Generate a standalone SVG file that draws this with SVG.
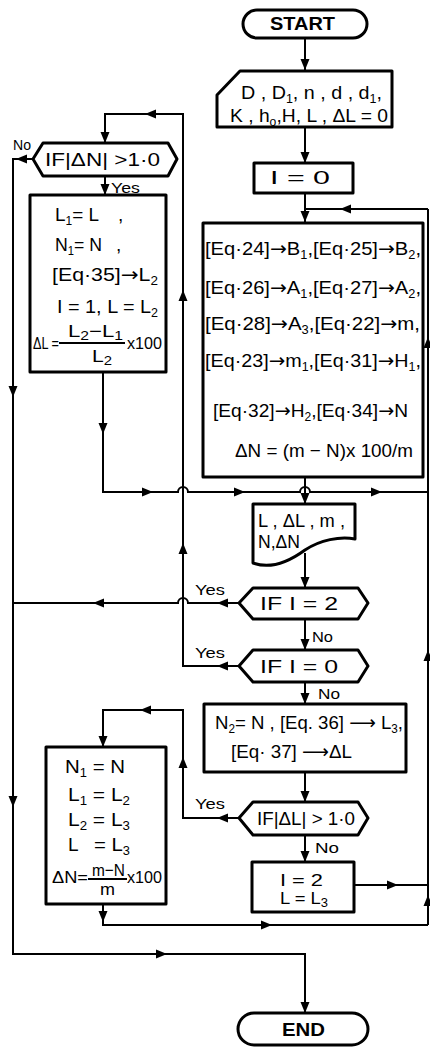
<svg xmlns="http://www.w3.org/2000/svg" xmlns:xlink="http://www.w3.org/1999/xlink" width="430" height="1048" viewBox="0 0 430 1048">
<style>
.s{fill:#fff;stroke:#000;stroke-width:3;stroke-linejoin:round}
.c{fill:none;stroke:#000;stroke-width:2}
text{font-family:"Liberation Sans",Arial,sans-serif;font-size:19px;fill:#000}
.b{font-weight:bold}
.lb{font-size:15px}
.sm{font-size:17px}
.sub{font-size:12px}
.ar{font-family:"DejaVu Sans",sans-serif}
</style>
<defs>
<path id="a" d="M0,0 L-11,-4.5 L-11,4.5 Z" fill="#000"/>
</defs>
<rect width="430" height="1048" fill="#fff"/>

<g id="connectors">
<path class="c" d="M305,38 V70"/>
<path class="c" d="M305,127 V163"/>
<path class="c" d="M305,193 V223"/>
<path class="c" d="M428,209 H305"/>
<path class="c" d="M428,925 V209"/>
<path class="c" d="M305,477 V504"/>
<path class="c" d="M103,372 V492 H178 A5,5 0 0 1 188,492 H300 A5,5 0 0 1 310,492 H428"/>
<path class="c" d="M305,553 V588"/>
<path class="c" d="M305,619 V650"/>
<path class="c" d="M305,682 V704"/>
<path class="c" d="M305,772 V802"/>
<path class="c" d="M305,835 V862"/>
<path class="c" d="M239,603 H188 A5,5 0 0 0 178,603 H13"/>
<path class="c" d="M239,666 H183 V114 H105 V143"/>
<path class="c" d="M33,159 H13 V954 H305 V1013"/>
<path class="c" d="M105,176 V195"/>
<path class="c" d="M239,818 H183 V710 H103 V747"/>
<path class="c" d="M354,885 H428"/>
<path class="c" d="M103,904 V925 H428"/>
<use xlink:href="#a" transform="translate(305,70) rotate(90)"/>
<use xlink:href="#a" transform="translate(305,163) rotate(90)"/>
<use xlink:href="#a" transform="translate(305,222) rotate(90)"/>
<use xlink:href="#a" transform="translate(340,209) rotate(180)"/>
<use xlink:href="#a" transform="translate(305,504) rotate(90)"/>
<use xlink:href="#a" transform="translate(103,434) rotate(90)"/>
<use xlink:href="#a" transform="translate(153,492)"/>
<use xlink:href="#a" transform="translate(245,492)"/>
<use xlink:href="#a" transform="translate(382,492)"/>
<use xlink:href="#a" transform="translate(305,588) rotate(90)"/>
<use xlink:href="#a" transform="translate(305,650) rotate(90)"/>
<use xlink:href="#a" transform="translate(305,704) rotate(90)"/>
<use xlink:href="#a" transform="translate(305,802) rotate(90)"/>
<use xlink:href="#a" transform="translate(305,862) rotate(90)"/>
<use xlink:href="#a" transform="translate(217,603) rotate(180)"/>
<use xlink:href="#a" transform="translate(93,603) rotate(180)"/>
<use xlink:href="#a" transform="translate(217,666) rotate(180)"/>
<use xlink:href="#a" transform="translate(183,290) rotate(-90)"/>
<use xlink:href="#a" transform="translate(183,543) rotate(-90)"/>
<use xlink:href="#a" transform="translate(145,114) rotate(180)"/>
<use xlink:href="#a" transform="translate(105,143) rotate(90)"/>
<use xlink:href="#a" transform="translate(16,159) rotate(180)"/>
<use xlink:href="#a" transform="translate(13,397) rotate(90)"/>
<use xlink:href="#a" transform="translate(13,807) rotate(90)"/>
<use xlink:href="#a" transform="translate(167,954)"/>
<use xlink:href="#a" transform="translate(305,1013) rotate(90)"/>
<use xlink:href="#a" transform="translate(105,195) rotate(90)"/>
<use xlink:href="#a" transform="translate(217,818) rotate(180)"/>
<use xlink:href="#a" transform="translate(183,757) rotate(-90)"/>
<use xlink:href="#a" transform="translate(140,710) rotate(180)"/>
<use xlink:href="#a" transform="translate(103,747) rotate(90)"/>
<use xlink:href="#a" transform="translate(398,885)"/>
<use xlink:href="#a" transform="translate(103,922) rotate(90)"/>
<use xlink:href="#a" transform="translate(272,925)"/>
<use xlink:href="#a" transform="translate(428,337) rotate(-90)"/>
<use xlink:href="#a" transform="translate(428,650) rotate(-90)"/>
<use xlink:href="#a" transform="translate(428,895) rotate(-90)"/>
</g>

<g id="start">
<rect class="s" x="243" y="10" width="124" height="28" rx="14"/>
<text class="b" x="270" y="30" textLength="65" lengthAdjust="spacingAndGlyphs">START</text>
</g>

<g id="input">
<path class="s" d="M240,71 H392 V127 H217 V95 Z"/>
<text x="241" y="99" textLength="141" lengthAdjust="spacingAndGlyphs">D , D<tspan class="sub" dy="4">1</tspan><tspan dy="-4">, n , d , d</tspan><tspan class="sub" dy="4">1</tspan><tspan dy="-4">,</tspan></text>
<text x="230" y="122" textLength="158" lengthAdjust="spacingAndGlyphs">K , h<tspan class="sub" dy="4">o</tspan><tspan dy="-4">,H, L , ΔL = 0</tspan></text>
</g>

<g id="init">
<rect class="s" x="254" y="163" width="99" height="30"/>
<text x="270" y="184" textLength="60" lengthAdjust="spacingAndGlyphs">I = 0</text>
</g>

<g id="compute">
<rect class="s" x="203" y="223" width="220" height="254"/>
<text x="205" y="255" textLength="216" lengthAdjust="spacingAndGlyphs">[Eq·24]<tspan class="ar">→</tspan>B<tspan class="sub" dy="4">1</tspan><tspan dy="-4">,[Eq·25]</tspan><tspan class="ar">→</tspan>B<tspan class="sub" dy="4">2</tspan><tspan dy="-4">,</tspan></text>
<text x="205" y="294" textLength="216" lengthAdjust="spacingAndGlyphs">[Eq·26]<tspan class="ar">→</tspan>A<tspan class="sub" dy="4">1</tspan><tspan dy="-4">,[Eq·27]</tspan><tspan class="ar">→</tspan>A<tspan class="sub" dy="4">2</tspan><tspan dy="-4">,</tspan></text>
<text x="205" y="330" textLength="215" lengthAdjust="spacingAndGlyphs">[Eq·28]<tspan class="ar">→</tspan>A<tspan class="sub" dy="4">3</tspan><tspan dy="-4">,[Eq·22]</tspan><tspan class="ar">→</tspan>m,</text>
<text x="205" y="367" textLength="216" lengthAdjust="spacingAndGlyphs">[Eq·23]<tspan class="ar">→</tspan>m<tspan class="sub" dy="4">1</tspan><tspan dy="-4">,[Eq·31]</tspan><tspan class="ar">→</tspan>H<tspan class="sub" dy="4">1</tspan><tspan dy="-4">,</tspan></text>
<text x="213" y="417" textLength="195" lengthAdjust="spacingAndGlyphs">[Eq·32]<tspan class="ar">→</tspan>H<tspan class="sub" dy="4">2</tspan><tspan dy="-4">,[Eq·34]</tspan><tspan class="ar">→</tspan>N</text>
<text x="235" y="457" textLength="178" lengthAdjust="spacingAndGlyphs">ΔN = (m − N)x 100/m</text>
</g>

<g id="output">
<path class="s" d="M253,504 H355 V539 C340,536 320,540 305,550 C290,561 272,570 253,563 Z"/>
<text x="258" y="527" textLength="87" lengthAdjust="spacingAndGlyphs">L , ΔL , m ,</text>
<text x="258" y="548" textLength="42" lengthAdjust="spacingAndGlyphs">N,ΔN</text>
</g>

<g id="if-dn">
<path class="s" d="M33,159 L43,143 H168 L177,159 L168,176 H43 Z"/>
<text x="45" y="166" textLength="115" lengthAdjust="spacingAndGlyphs">IF|ΔN| &gt;1·0</text>
</g>

<g id="box1">
<rect class="s" x="30" y="195" width="136" height="177"/>
<text x="55" y="221" textLength="44" lengthAdjust="spacingAndGlyphs">L<tspan class="sub" dy="4">1</tspan><tspan dy="-4">= L</tspan></text>
<text x="118" y="221">,</text>
<text x="55" y="251" textLength="47" lengthAdjust="spacingAndGlyphs">N<tspan class="sub" dy="4">1</tspan><tspan dy="-4">= N</tspan></text>
<text x="116" y="251">,</text>
<text x="52" y="281" textLength="106" lengthAdjust="spacingAndGlyphs">[Eq·35]<tspan class="ar">→</tspan>L<tspan class="sub" dy="4">2</tspan></text>
<text x="57" y="313" textLength="101" lengthAdjust="spacingAndGlyphs">I = 1, L = L<tspan class="sub" dy="4">2</tspan></text>
<text class="sm" x="33" y="349" textLength="26" lengthAdjust="spacingAndGlyphs">ΔL =</text>
<text class="sm" x="68" y="337" textLength="55" lengthAdjust="spacingAndGlyphs">L<tspan class="sub" dy="3">2</tspan><tspan dy="-3">−L</tspan><tspan class="sub" dy="3">1</tspan></text>
<path class="c" d="M59,343 H125"/>
<text class="sm" x="92" y="362" textLength="20" lengthAdjust="spacingAndGlyphs">L<tspan class="sub" dy="3">2</tspan></text>
<text class="sm" x="127" y="349" textLength="35" lengthAdjust="spacingAndGlyphs">x100</text>
</g>

<g id="if-i2">
<path class="s" d="M239,603 L253,588 H358 L368,603 L358,619 H253 Z"/>
<text x="260" y="610" textLength="78" lengthAdjust="spacingAndGlyphs">IF I = 2</text>
</g>

<g id="if-i0">
<path class="s" d="M239,666 L253,650 H358 L368,666 L358,682 H253 Z"/>
<text x="260" y="673" textLength="78" lengthAdjust="spacingAndGlyphs">IF I = 0</text>
</g>

<g id="n2box">
<rect class="s" x="204" y="704" width="202" height="68"/>
<text x="215" y="729" textLength="188" lengthAdjust="spacingAndGlyphs">N<tspan class="sub" dy="4">2</tspan><tspan dy="-4">= N , [Eq. 36] </tspan><tspan class="ar">⟶</tspan> L<tspan class="sub" dy="4">3</tspan><tspan dy="-4">,</tspan></text>
<text x="231" y="758" textLength="121" lengthAdjust="spacingAndGlyphs">[Eq· 37] <tspan class="ar">⟶</tspan>ΔL</text>
</g>

<g id="if-dl">
<path class="s" d="M239,818 L253,802 H358 L368,818 L358,835 H253 Z"/>
<text x="257" y="825" textLength="98" lengthAdjust="spacingAndGlyphs">IF|ΔL| &gt; 1·0</text>
</g>

<g id="box2">
<rect class="s" x="46" y="747" width="120" height="157"/>
<text x="65" y="773" textLength="60" lengthAdjust="spacingAndGlyphs">N<tspan class="sub" dy="4">1</tspan><tspan dy="-4"> = N</tspan></text>
<text x="68" y="801" textLength="62" lengthAdjust="spacingAndGlyphs">L<tspan class="sub" dy="4">1</tspan><tspan dy="-4"> = L</tspan><tspan class="sub" dy="4">2</tspan></text>
<text x="68" y="826" textLength="62" lengthAdjust="spacingAndGlyphs">L<tspan class="sub" dy="4">2</tspan><tspan dy="-4"> = L</tspan><tspan class="sub" dy="4">3</tspan></text>
<text x="68" y="851">L</text>
<text x="94" y="851" textLength="36" lengthAdjust="spacingAndGlyphs">= L<tspan class="sub" dy="4">3</tspan></text>
<text class="sm" x="52" y="883" textLength="36" lengthAdjust="spacingAndGlyphs">ΔN=</text>
<text class="sm" x="92" y="876" textLength="33" lengthAdjust="spacingAndGlyphs">m−N</text>
<path class="c" d="M88,879 H127"/>
<text class="sm" x="100" y="895" textLength="15" lengthAdjust="spacingAndGlyphs">m</text>
<text class="sm" x="127" y="883" textLength="35" lengthAdjust="spacingAndGlyphs">x100</text>
</g>

<g id="i2box">
<rect class="s" x="252" y="862" width="102" height="50"/>
<text class="sm" x="280" y="886" textLength="43" lengthAdjust="spacingAndGlyphs">I = 2</text>
<text class="sm" x="280" y="904" textLength="48" lengthAdjust="spacingAndGlyphs">L = L<tspan class="sub" dy="3">3</tspan></text>
</g>

<g id="end">
<rect class="s" x="238" y="1013" width="130" height="32" rx="16"/>
<text class="b" x="282" y="1036" textLength="43" lengthAdjust="spacingAndGlyphs">END</text>
</g>

<g id="labels">
<text class="lb" x="13" y="150" textLength="18" lengthAdjust="spacingAndGlyphs">No</text>
<text class="lb" x="111" y="193" textLength="29" lengthAdjust="spacingAndGlyphs">Yes</text>
<text class="lb" x="195" y="595" textLength="30" lengthAdjust="spacingAndGlyphs">Yes</text>
<text class="lb" x="312" y="642" textLength="21" lengthAdjust="spacingAndGlyphs">No</text>
<text class="lb" x="195" y="658" textLength="30" lengthAdjust="spacingAndGlyphs">Yes</text>
<text class="lb" x="318" y="699" textLength="22" lengthAdjust="spacingAndGlyphs">No</text>
<text class="lb" x="195" y="809" textLength="30" lengthAdjust="spacingAndGlyphs">Yes</text>
<text class="lb" x="315" y="853" textLength="24" lengthAdjust="spacingAndGlyphs">No</text>
</g>
</svg>
